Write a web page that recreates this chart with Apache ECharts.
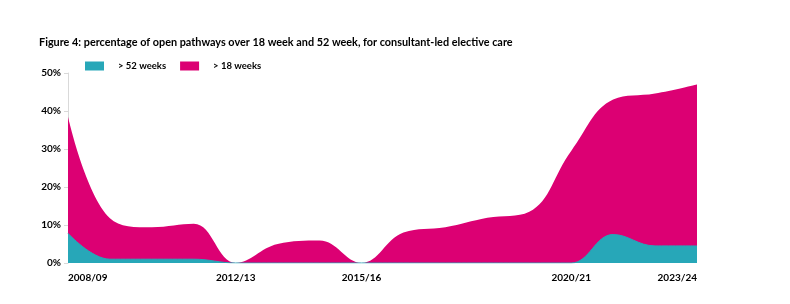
<!DOCTYPE html>
<html>
<head>
<meta charset="utf-8">
<script src="https://cdn.jsdelivr.net/npm/echarts@6/dist/echarts.min.js"></script>
<style>
html,body{margin:0;padding:0;background:#fff;}
#chart{width:790px;height:304px;}
</style>
</head>
<body>
<div id="chart"></div>
<script>
const categories = ['2008/09','2009/10','2010/11','2011/12','2012/13','2013/14','2014/15','2015/16','2016/17','2017/18','2018/19','2019/20','2020/21','2021/22','2022/23','2023/24'];
const shownLabels = ['2008/09','2012/13','2015/16','2020/21','2023/24'];
const over52 = [7.8, 1.0, 1.0, 1.0, 0, 0, 0, 0, 0, 0, 0, 0, 0, 7.5, 4.5, 4.5];
const over18 = [38.5, 11.8, 9.4, 10.3, 0, 5.0, 5.9, 0, 8.0, 9.4, 11.9, 13.5, 29.5, 43, 44.6, 47];
const yTicks = [0, 10, 20, 30, 40, 50];

const magenta = '#DC0073';
const teal = '#27A7B8';
const font = 'Lato, "Open Sans", sans-serif';

const chart = echarts.init(document.getElementById('chart'), null, {renderer: 'canvas'});
chart.setOption({
  animation: false,
  title: {
    text: 'Figure 4: percentage of open pathways over 18 week and 52 week, for consultant-led elective care',
    left: 34, top: 32,
    textStyle: {fontFamily: font, fontWeight: 'bold', fontSize: 10.85, color: '#000'}
  },
  legend: {
    left: 85, top: 61, padding: 0,
    itemWidth: 19, itemHeight: 9, itemGap: 14,
    icon: 'rect',
    data: [{name: '> 52 weeks'}, {name: '> 18 weeks'}],
    formatter: function (name) { return '{s|}' + name; },
    textStyle: {
      fontFamily: font, fontWeight: 'bold', fontSize: 9.5, color: '#000',
      rich: {s: {width: 9}}
    }
  },
  grid: {left: 68, right: 93, top: 73, bottom: 41, containLabel: false},
  xAxis: {
    type: 'category',
    data: categories,
    boundaryGap: false,
    axisLine: {show: false},
    axisTick: {show: false},
    axisLabel: {
      interval: function (i, v) { return shownLabels.indexOf(v) >= 0; },
      alignMinLabel: 'left', alignMaxLabel: 'right',
      margin: 10,
      fontFamily: font, fontWeight: 'bold', fontSize: 10, color: '#000'
    }
  },
  yAxis: {
    type: 'value',
    min: yTicks[0], max: yTicks[yTicks.length - 1], interval: 10,
    splitLine: {show: false},
    axisLine: {show: true, lineStyle: {color: '#d9d9d9', width: 1}},
    axisTick: {show: true, length: 4, lineStyle: {color: '#d9d9d9'}},
    axisLabel: {
      formatter: '{value}%', margin: 7,
      fontFamily: font, fontWeight: 'bold', fontSize: 10, color: '#000'
    }
  },
  series: [
    {
      name: '> 18 weeks', type: 'line', data: over18, smooth: 0.4,
      symbol: 'none', z: 2,
      lineStyle: {width: 0, color: magenta},
      itemStyle: {color: magenta},
      areaStyle: {color: magenta, opacity: 1}
    },
    {
      name: '> 52 weeks', type: 'line', data: over52, smooth: 0.4,
      symbol: 'none', z: 3,
      lineStyle: {width: 1, color: teal},
      itemStyle: {color: teal},
      areaStyle: {color: teal, opacity: 1}
    }
  ]
});
</script>
</body>
</html>
